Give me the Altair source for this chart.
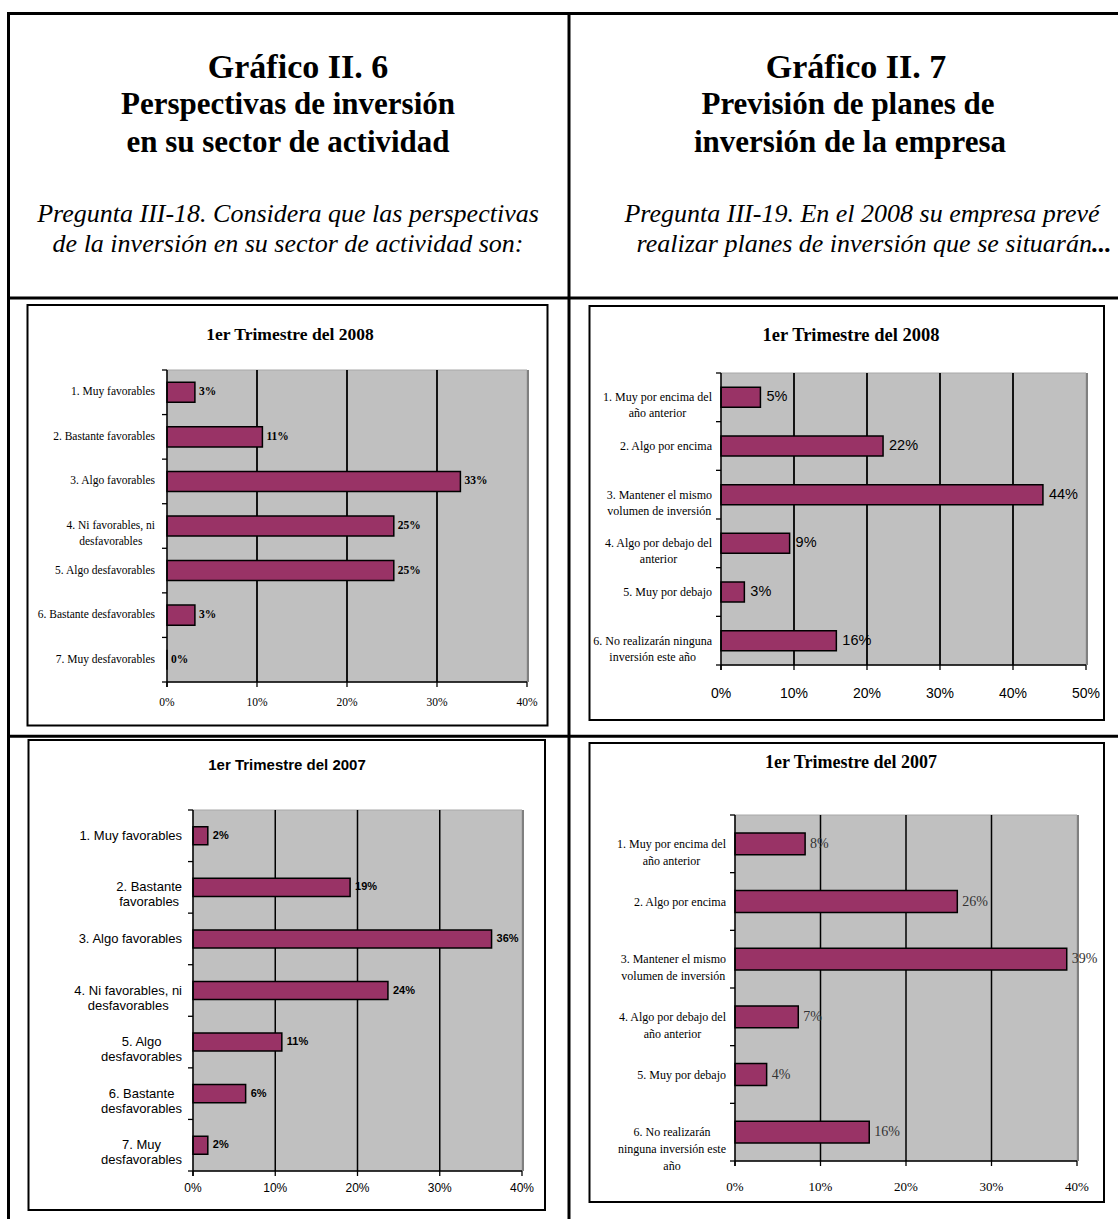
import altair as alt
import pandas as pd

# ---------------- data ----------------
header_left = ["Gráfico II. 6", "Perspectivas de inversión", "en su sector de actividad"]
question_left = ["Pregunta III-18. Considera que las perspectivas",
                 "de la inversión en su sector de actividad son:"]
header_right = ["Gráfico II. 7", "Previsión de planes de", "inversión de la empresa"]
question_right = ["Pregunta III-19. En el 2008 su empresa prevé",
                  "realizar  planes de inversión que se situarán"]
question_right_tail = "..."

tl_title = "1er Trimestre del 2008"
tl_categories = ["1. Muy favorables", "2. Bastante favorables", "3. Algo favorables",
                 "4. Ni favorables, ni\ndesfavorables", "5. Algo desfavorables",
                 "6. Bastante desfavorables", "7. Muy desfavorables"]
tl_values = [3.1, 10.6, 32.6, 25.2, 25.2, 3.1, 0.0]

tr_title = "1er Trimestre del 2008"
tr_categories = ["1. Muy por encima del\naño anterior", "2. Algo por encima",
                 "3. Mantener el mismo\nvolumen de inversión", "4. Algo por debajo del\nanterior",
                 "5. Muy por debajo", "6. No realizarán ninguna\ninversión este año"]
tr_values = [5.4, 22.2, 44.1, 9.4, 3.2, 15.8]

bl_title = "1er Trimestre del 2007"
bl_categories = ["1. Muy favorables", "2. Bastante\nfavorables", "3. Algo favorables",
                 "4. Ni favorables, ni\ndesfavorables", "5. Algo\ndesfavorables",
                 "6. Bastante\ndesfavorables", "7. Muy\ndesfavorables"]
bl_values = [1.8, 19.1, 36.3, 23.7, 10.8, 6.4, 1.8]

br_title = "1er Trimestre del 2007"
br_categories = ["1. Muy por encima del\naño anterior", "2. Algo por encima",
                 "3. Mantener el mismo\nvolumen de inversión", "4. Algo por debajo del\naño anterior",
                 "5. Muy por debajo", "6. No realizarán\nninguna inversión este\naño"]
br_values = [8.2, 26.0, 38.8, 7.4, 3.7, 15.7]

ticks_40 = [0, 10, 20, 30, 40]
ticks_50 = [0, 10, 20, 30, 40, 50]

# ---------------- style / layout ----------------
SERIF = "Liberation Serif"
SANS = "Liberation Sans"
BAR = "#993366"
PLOT_BG = "#C0C0C0"
W, H = 1118, 1219

TIMES = {" ": .25, ".": .25, ",": .25, ":": .278, "a": .444, "b": .5, "c": .444, "d": .5,
         "e": .444, "f": .333, "g": .5, "h": .5, "i": .278, "j": .278, "k": .5, "l": .278,
         "m": .778, "n": .5, "o": .5, "p": .5, "q": .5, "r": .333, "s": .389, "t": .278,
         "u": .5, "v": .5, "w": .722, "x": .5, "y": .5, "z": .444, "ñ": .5, "á": .444,
         "é": .444, "ó": .5, "í": .278, "M": .889, "N": .722}
HELV = {" ": .278, ".": .278, ",": .278, ":": .278, "a": .556, "b": .556, "c": .5, "d": .556,
        "e": .556, "f": .278, "g": .556, "h": .556, "i": .222, "j": .222, "k": .5, "l": .222,
        "m": .833, "n": .556, "o": .556, "p": .556, "q": .556, "r": .333, "s": .5, "t": .278,
        "u": .556, "v": .5, "w": .722, "x": .5, "y": .5, "z": .5, "M": .833, "N": .722}


def est_w(s, font, size):
    table = TIMES if font == SERIF else HELV
    dflt = 0.5 if font == SERIF else 0.556
    return sum(table.get(ch, 0.667 if ch.isupper() else dflt) for ch in s) * size


def one():
    return alt.Data(values=[{"k": 0}])


def text_at(txt, x, y, size, font=SERIF, weight="normal", style="normal",
            align="center", baseline="alphabetic"):
    return alt.Chart(one()).mark_text(
        text=txt, font=font, fontSize=size, fontWeight=weight, fontStyle=style,
        align=align, baseline=baseline, color="black"
    ).encode(x=alt.value(x), y=alt.value(y))


def hline(x0, x1, y, w=3):
    return alt.Chart(one()).mark_rule(color="black", strokeWidth=w).encode(
        x=alt.value(x0), x2=alt.value(x1), y=alt.value(y))


def vline(x, y0, y1, w=3):
    return alt.Chart(one()).mark_rule(color="black", strokeWidth=w).encode(
        x=alt.value(x), y=alt.value(y0), y2=alt.value(y1))


PANELS = [
    dict(cats=tl_categories, vals=tl_values, ticks=ticks_40, title=tl_title,
         box=(27.5, 547.5, 305, 725.5), x0=167, x1=527, y0=370, y1=682, pad=0.55,
         title_xy=(290, 335), title_font=SERIF, title_size=17.5,
         lab_right=155, lab_font=SERIF, lab_size=11.5, lab_lh=16,
         val_font=SERIF, val_size=11.5, val_weight="bold", val_dx=4, val_color="black",
         ax_font=SERIF, ax_size=11.5, ax_y=703, grid_w=1.8),
    dict(cats=tr_categories, vals=tr_values, ticks=ticks_50, title=tr_title,
         box=(589.5, 1104, 306, 720), x0=721, x1=1086, y0=373, y1=665, pad=0.59,
         title_xy=(851, 335), title_font=SERIF, title_size=18.5,
         lab_right=712, lab_font=SERIF, lab_size=12, lab_lh=16,
         val_font=SANS, val_size=14.5, val_weight="normal", val_dx=6, val_color="black",
         ax_font=SANS, ax_size=14, ax_y=694, grid_w=1.8),
    dict(cats=bl_categories, vals=bl_values, ticks=ticks_40, title=bl_title,
         box=(28.5, 545, 740, 1210), x0=193, x1=522, y0=810, y1=1171, pad=0.65,
         title_xy=(287, 765), title_font=SANS, title_size=15,
         lab_right=182, lab_font=SANS, lab_size=13, lab_lh=15,
         val_font=SANS, val_size=11, val_weight="bold", val_dx=5, val_color="black",
         ax_font=SANS, ax_size=12, ax_y=1188, grid_w=1.5),
    dict(cats=br_categories, vals=br_values, ticks=ticks_40, title=br_title,
         box=(589.5, 1104, 743, 1202), x0=735, x1=1077, y0=815, y1=1161, pad=0.62,
         title_xy=(851, 763), title_font=SERIF, title_size=18,
         lab_right=726, lab_font=SERIF, lab_size=12, lab_lh=17,
         val_font=SERIF, val_size=14, val_weight="normal", val_dx=5, val_color="#333333",
         ax_font=SERIF, ax_size=13, ax_y=1187, grid_w=1.5),
]


def panel(P):
    L = []
    cats, vals, ticks = P["cats"], P["vals"], P["ticks"]
    n = len(cats)
    x0, x1, y0, y1 = P["x0"], P["x1"], P["y0"], P["y1"]
    bx0, bx1, by0, by1 = P["box"]

    # chart frame
    L.append(alt.Chart(one()).mark_rect(fill="white", stroke="black", strokeWidth=2).encode(
        x=alt.value(bx0), x2=alt.value(bx1), y=alt.value(by0), y2=alt.value(by1)))
    tx, ty = P["title_xy"]
    L.append(text_at(P["title"], tx, ty, P["title_size"], P["title_font"],
                     weight="bold", baseline="middle"))
    # plot area
    L.append(alt.Chart(one()).mark_rect(fill=PLOT_BG, stroke="#a8a8a8", strokeWidth=1).encode(
        x=alt.value(x0), x2=alt.value(x1), y=alt.value(y0), y2=alt.value(y1)))
    L.append(alt.Chart(one()).mark_rule(color="#808080", strokeWidth=2).encode(
        x=alt.value(x1 + 1), y=alt.value(y0), y2=alt.value(y1)))

    xs = alt.Scale(domain=[0, ticks[-1]], range=[x0, x1], nice=False, zero=False)
    ys = alt.Scale(domain=cats, range=[y0, y1], paddingInner=P["pad"],
                   paddingOuter=P["pad"] / 2)

    def xq(f):
        return alt.X(f"{f}:Q", scale=xs, axis=None)

    yc = alt.Y("cat:N", scale=ys, axis=None)

    tick_df = pd.DataFrame({"t": ticks})
    grid_df = tick_df[(tick_df.t > 0) & (tick_df.t < ticks[-1])]
    L.append(alt.Chart(grid_df).mark_rule(color="black", strokeWidth=P["grid_w"]).encode(
        x=xq("t"), y=alt.value(y0), y2=alt.value(y1)))

    df = pd.DataFrame({"cat": cats, "v": vals})
    L.append(alt.Chart(df).mark_bar(fill=BAR, stroke="black", strokeWidth=1.5).encode(
        x=xq("v"), x2=alt.datum(0), y=yc))
    L.append(alt.Chart(df).transform_calculate(
        lab="format(datum.v, '.0f') + '%'"
    ).mark_text(align="left", baseline="middle", dx=P["val_dx"], font=P["val_font"],
                fontSize=P["val_size"], fontWeight=P["val_weight"], color=P["val_color"]
                ).encode(x=xq("v"), y=yc, text="lab:N"))

    # category labels
    single = df[~df.cat.str.contains("\n", regex=False)]
    L.append(alt.Chart(single).mark_text(
        align="right", baseline="middle", font=P["lab_font"], fontSize=P["lab_size"],
        color="black").encode(x=alt.value(P["lab_right"]), y=yc, text="cat:N"))
    for c in cats:
        if "\n" in c:
            w = max(est_w(line, P["lab_font"], P["lab_size"]) for line in c.split("\n"))
            cx = P["lab_right"] - w / 2
            L.append(alt.Chart(df[df.cat == c]).mark_text(
                align="center", baseline="middle", lineBreak="\n", lineHeight=P["lab_lh"],
                font=P["lab_font"], fontSize=P["lab_size"], color="black"
            ).encode(x=alt.value(cx), y=yc, text="cat:N"))

    # axes
    L.append(vline(x0, y0, y1 + 5, 1.5))
    idx_df = pd.DataFrame({"i": list(range(n + 1))})
    L.append(alt.Chart(idx_df).mark_rule(color="black", strokeWidth=1.3).encode(
        x=alt.value(x0 - 5), x2=alt.value(x0),
        y=alt.Y("i:Q", scale=alt.Scale(domain=[0, n], range=[y0, y1], nice=False, zero=False),
                axis=None)))
    L.append(hline(x0, x1, y1, 1.5))
    L.append(alt.Chart(tick_df).mark_rule(color="black", strokeWidth=1.3).encode(
        x=xq("t"), y=alt.value(y1), y2=alt.value(y1 + 5)))
    L.append(alt.Chart(tick_df).transform_calculate(tl="datum.t + '%'").mark_text(
        align="center", baseline="middle", font=P["ax_font"], fontSize=P["ax_size"],
        color="black").encode(x=xq("t"), y=alt.value(P["ax_y"]), text="tl:N"))
    return L


layers = []
# table frame
layers.append(hline(7, 1118, 13.5))
layers.append(vline(8.5, 12, H))
layers.append(vline(569, 12, H))
layers.append(hline(7, 1118, 298))
layers.append(hline(7, 1118, 736.3))

# headers
for (txt, x, y, s) in [(header_left[0], 298, 78, 34), (header_left[1], 288, 114, 31),
                       (header_left[2], 288, 152, 31),
                       (header_right[0], 856, 78, 34), (header_right[1], 848, 114, 31),
                       (header_right[2], 850, 152, 31)]:
    layers.append(text_at(txt, x, y, s, SERIF, weight="bold"))
for (txt, x, y) in [(question_left[0], 288, 222), (question_left[1], 288, 252),
                    (question_right[0], 862, 222)]:
    layers.append(text_at(txt, x, y, 26, SERIF, style="italic"))
# second question line (right) ends with bold dots
layers.append(text_at(question_right[1], 1092, 252, 26, SERIF, style="italic", align="right"))
layers.append(text_at(question_right_tail, 1092, 252, 26, SERIF, weight="bold",
                      style="italic", align="left"))

for P in PANELS:
    layers.extend(panel(P))

chart = alt.layer(*layers).resolve_scale(
    x="independent", y="independent"
).properties(
    width=W, height=H, autosize=alt.AutoSizeParams(type="none"), padding=0,
    background="white"
).configure_view(stroke=None)

chart.save("out.html", embed_options={"renderer": "svg", "actions": False})
